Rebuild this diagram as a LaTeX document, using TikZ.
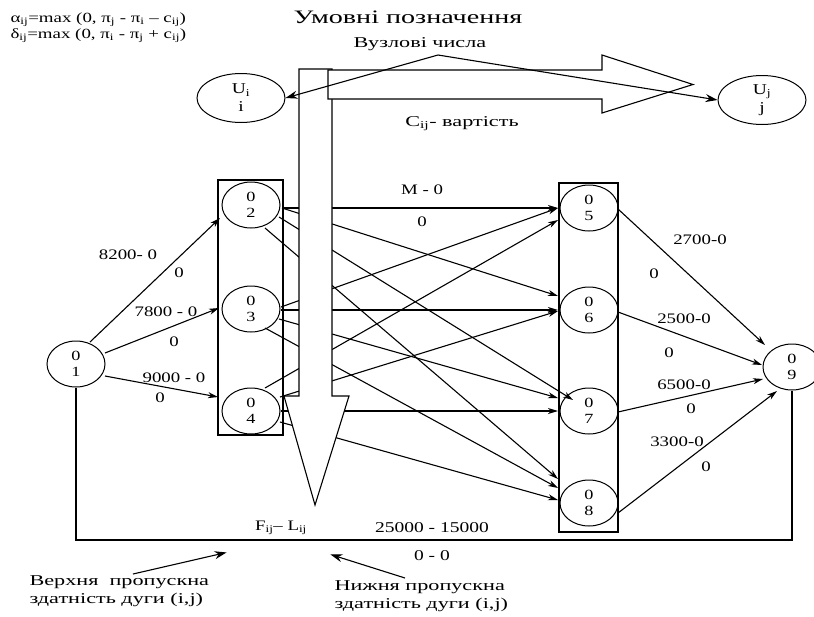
\documentclass[tikz,border=0pt]{standalone}
\usepackage{fontspec}
\setmainfont{Liberation Serif}[FakeStretch=1.3]
\newfontfamily\cyr{Liberation Serif}[FakeStretch=1.48]
\usetikzlibrary{arrows.meta,shapes.geometric,calc}
\begin{document}
\begin{tikzpicture}[x=1pt,y=-1pt,line width=1.1pt,
  lbl/.style={inner sep=0pt, font=\fontsize{14.5}{16}\selectfont},
  clbl/.style={inner sep=0pt, font=\cyr\fontsize{15}{18}\selectfont},
  nd/.style={draw, ellipse, line width=1pt, minimum width=58pt, minimum height=46pt, inner sep=0pt, align=center, font=\fontsize{14}{15.5}\selectfont},
  ud/.style={draw, ellipse, line width=1pt, minimum width=88pt, minimum height=49pt, inner sep=0pt, align=center, font=\fontsize{15}{18}\selectfont},
  grp/.style={draw, inner sep=0pt},
  arr/.style={-{Stealth[length=10pt,width=6pt,inset=3pt]}},
  parr/.style={-{Stealth[length=12pt,width=8pt]}},
  bigarrow/.style={draw, fill=white, line join=miter}
]
\useasboundingbox (0,0) rectangle (814,616);

% group boxes
\node[grp, minimum width=65pt, minimum height=255pt] (box1) at (250.5,307.5) {};
\node[grp, minimum width=59pt, minimum height=349pt] (box2) at (588.5,357.5) {};

% network nodes
\node[nd] (n1) at (76,364) {0\\1};
\node[nd] (n2) at (251,205) {0\\2};
\node[nd] (n3) at (251,309) {0\\3};
\node[nd] (n4) at (251,411) {0\\4};
\node[nd] (n5) at (589,208) {0\\5};
\node[nd] (n6) at (589,310) {0\\6};
\node[nd] (n7) at (589,411) {0\\7};
\node[nd] (n8) at (589,503) {0\\8};
\node[nd] (n9) at (792,367) {0\\9};

% source arcs
\draw[arr] ($(n1)+(14,-22)$) -- ($(n2)+(-31,13)$);
\draw[arr] ($(n1)+(29,-11)$) -- ($(n3)+(-32,-1)$);
\draw[arr] ($(n1)+(29,12)$) -- ($(n4)+(-33,-14)$);

% middle arcs
\draw[arr] ($(n2)+(31,3)$) -- ($(n5)+(-31,0)$);
\draw[arr] ($(n2)+(31,3)$) -- ($(n6)+(-31,-14)$);
\draw[arr] ($(n2)+(28,12)$) -- ($(n7)+(-16,-11)$);
\draw[arr] ($(n2)+(14,23)$) -- ($(n8)+(-31,-24)$);
\draw[arr] ($(n3)+(30,-2)$) -- ($(n5)+(-31,0)$);
\draw[arr] ($(n3)+(30,1)$) -- ($(n6)+(-31,0)$);
\draw[arr] ($(n3)+(28,10)$) -- ($(n7)+(-31,-13)$);
\draw[arr] ($(n3)+(14,19)$) -- ($(n8)+(-31,-15)$);
\draw[arr] ($(n4)+(14,-23)$) -- ($(n5)+(-31,12)$);
\draw[arr] ($(n4)+(29,-14)$) -- ($(n6)+(-31,1)$);
\draw[arr] ($(n4)+(30,0)$) -- ($(n7)+(-31,0)$);
\draw[arr] ($(n4)+(29,11)$) -- ($(n8)+(-31,-3)$);

% sink arcs
\draw[arr] ($(n5)+(29,1)$) -- ($(n9)+(-27,-22)$);
\draw[arr] ($(n6)+(29,2)$) -- ($(n9)+(-30,-2)$);
\draw[arr] ($(n7)+(29,1)$) -- ($(n9)+(-29,12)$);
\draw[arr] ($(n8)+(29,10)$) -- ($(n9)+(-15,24)$);

% return arc
\coordinate (bot) at (0,540);
\draw (n1.south) -- (n1.south |- bot) -- (n9.south |- bot) -- (n9.south);

% big arrows
\draw[bigarrow] (299,69) -- (332,69) -- (332,396) -- (349,396) -- (315,505) -- (284,396) -- (299,396) -- cycle;
\draw[bigarrow] (328,70) -- (602,70) -- (602,55) -- (693,84.5) -- (602,113) -- (602,99) -- (328,99) -- cycle;

% legend
\node[font=\cyr\fontsize{19}{21}\selectfont, inner sep=0pt] (title) at (408,17) {Умовні позначення};
\node[inner sep=0pt, font=\addfontfeature{FakeStretch=1.35}\fontsize{14}{16}\selectfont, align=left, anchor=west] (form) at (10,28)
  {α\textsubscript{ij}=max (0, π\textsubscript{j} - π\textsubscript{i} – c\textsubscript{ij})\\δ\textsubscript{ij}=max (0, π\textsubscript{i} - π\textsubscript{j} + c\textsubscript{ij})};
\node[clbl] (vz) at (420,44) {Вузлові числа};
\node[ud] (ui) at (241,98) {U\textsubscript{i}\\i};
\node[ud] (uj) at (762,100) {U\textsubscript{j}\\j};
\node[clbl] (cij) at (462,124) {C\textsubscript{ij}- вартість};
\coordinate (vza) at (438,55);
\draw[parr] (vza) -- (ui.east);
\draw[parr] (vza) -- (uj.west);

% arc labels
\node[lbl] at (128,255) {8200- 0};
\node[lbl] at (179,273) {0};
\node[lbl] at (166,312) {7800 - 0};
\node[lbl] at (174,342) {0};
\node[lbl] at (174,378) {9000 - 0};
\node[lbl] at (160,398) {0};
\node[lbl] at (422,190) {M - 0};
\node[lbl] at (422,222) {0};
\node[lbl] at (700,240) {2700-0};
\node[lbl] at (654,274) {0};
\node[lbl] at (684,319) {2500-0};
\node[lbl] at (669,353) {0};
\node[lbl] at (684,385) {6500-0};
\node[lbl] at (691,409) {0};
\node[lbl] at (677,442) {3300-0};
\node[lbl] at (706,467) {0};

% bottom legend
\node[lbl] (fl) at (281,528) {F\textsubscript{ij}– L\textsubscript{ij}};
\node[lbl, font=\fontsize{15}{16}\selectfont] (cap) at (432,528) {25000 - 15000};
\node[lbl, font=\fontsize{15}{16}\selectfont] (low) at (432,556) {0 - 0};
\node[clbl, align=left, anchor=north west] (up) at (29,575) {Верхня\ \ пропускна\\здатність дуги (i,j)};
\node[clbl, align=left, anchor=north west] (lo) at (334,580) {Нижня пропускна\\здатність дуги (i,j)};
\coordinate (pu) at (133,574);
\coordinate (pl) at (405,578);
\draw[parr] (pu) -- ($(fl.south west)+(-28,17)$);
\draw[parr] (pl) -- ($(fl.south east)+(23,19)$);
\end{tikzpicture}
\end{document}
